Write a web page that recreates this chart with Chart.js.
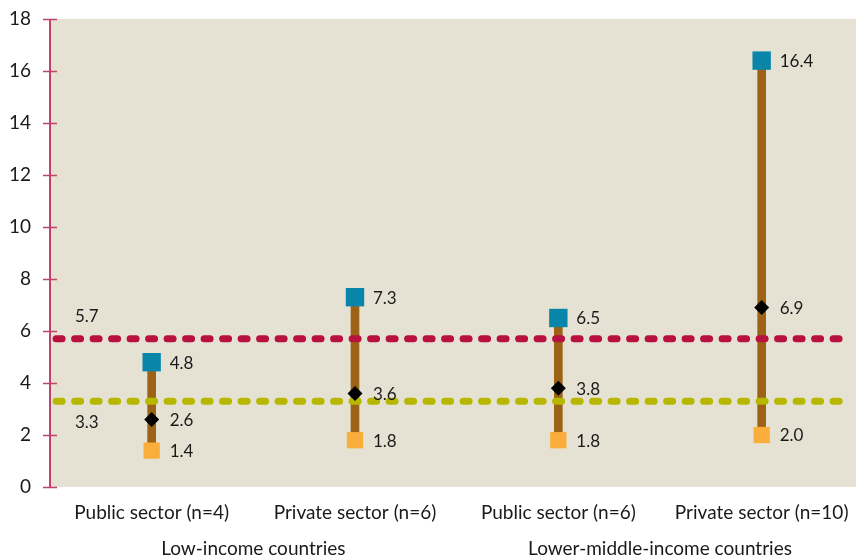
<!DOCTYPE html>
<html>
<head>
<meta charset="utf-8">
<script src="https://cdn.jsdelivr.net/npm/chart.js@4"></script>
<style>
  html, body { margin: 0; padding: 0; background: #fff; }
  #wrap { width: 856px; height: 557px; }
</style>
</head>
<body>
<div id="wrap"><canvas id="chart"></canvas></div>
<script>
// categories and values
const categories = ['Public sector (n=4)', 'Private sector (n=6)', 'Public sector (n=6)', 'Private sector (n=10)'];
const groups = ['Low-income countries', 'Lower-middle-income countries'];
const maxValues = [4.8, 7.3, 6.5, 16.4];
const medianValues = [2.6, 3.6, 3.8, 6.9];
const minValues = [1.4, 1.8, 1.8, 2.0];
const refHigh = 5.7;
const refLow = 3.3;
const yTicks = [0, 2, 4, 6, 8, 10, 12, 14, 16, 18];

const FONT = 'Lato';
const AXIS_RED = '#c2416a';
const X_MIN = -0.5, X_MAX = 3.40;
const REF_START = -0.47, REF_END = 3.43;

const pts = arr => arr.map((v, i) => ({ x: i, y: v }));

// plot background + axis + labels
const decor = {
    id: 'decor',
    beforeDatasetsDraw(chart) {
        const { ctx, chartArea: a } = chart;
        ctx.save();
        ctx.fillStyle = '#e6e2d3';
        ctx.fillRect(a.left, a.top, chart.width - a.left, a.bottom - a.top);
        ctx.restore();
    },
    afterDraw(chart) {
        const { ctx, chartArea: a, scales } = chart;
        const x = scales.x, y = scales.y;
        ctx.save();
        // y axis line and ticks
        ctx.strokeStyle = AXIS_RED;
        ctx.lineWidth = 2;
        ctx.beginPath();
        ctx.moveTo(a.left, y.getPixelForValue(18));
        ctx.lineTo(a.left, y.getPixelForValue(0));
        ctx.stroke();
        ctx.lineWidth = 1.5;
        yTicks.forEach(t => {
            const py = Math.round(y.getPixelForValue(t)) + 0.5;
            ctx.beginPath();
            ctx.moveTo(a.left - 7, py);
            ctx.lineTo(a.left + 7, py);
            ctx.stroke();
        });

        ctx.fillStyle = '#1a1a1a';
        ctx.font = '17px ' + FONT;
        ctx.textBaseline = 'middle';
        ctx.textAlign = 'left';
        // value labels beside markers
        [maxValues, medianValues, minValues].forEach(arr => {
            arr.forEach((v, i) => {
                ctx.fillText(v.toFixed(1), x.getPixelForValue(i) + 18, y.getPixelForValue(v) + 1);
            });
        });
        // reference line labels
        ctx.fillText(refHigh.toFixed(1), a.left + 25, y.getPixelForValue(refHigh) - 22);
        ctx.fillText(refLow.toFixed(1), a.left + 25, y.getPixelForValue(refLow) + 21);

        // group labels
        ctx.font = '19px ' + FONT;
        ctx.textAlign = 'center';
        ctx.fillText(groups[0], (x.getPixelForValue(0) + x.getPixelForValue(1)) / 2, 549);
        ctx.fillText(groups[1], (x.getPixelForValue(2) + x.getPixelForValue(3)) / 2, 549);
        ctx.restore();
    }
};

new Chart(document.getElementById('chart'), {
    data: {
        datasets: [
            {
                type: 'scatter', label: 'Median', data: pts(medianValues),
                pointStyle: 'rectRot', pointRadius: 7.5, backgroundColor: '#000', borderColor: '#000', borderWidth: 0
            },
            {
                type: 'scatter', label: 'Max', data: pts(maxValues),
                pointStyle: 'rect', pointRadius: 13, backgroundColor: '#0a85aa', borderColor: '#0a85aa', borderWidth: 0
            },
            {
                type: 'scatter', label: 'Min', data: pts(minValues),
                pointStyle: 'rect', pointRadius: 11.5, backgroundColor: '#f9ad3b', borderColor: '#f9ad3b', borderWidth: 0
            },
            {
                type: 'line', label: 'ref high', data: [{ x: REF_START, y: refHigh }, { x: REF_END, y: refHigh }],
                borderColor: '#b8103f', borderWidth: 7, borderDash: [6, 12.5], borderCapStyle: 'round',
                pointRadius: 0, fill: false, clip: false
            },
            {
                type: 'line', label: 'ref low', data: [{ x: REF_START, y: refLow }, { x: REF_END, y: refLow }],
                borderColor: '#b7b700', borderWidth: 7, borderDash: [6, 12.5], borderCapStyle: 'round',
                pointRadius: 0, fill: false, clip: false
            },
            {
                type: 'bar', label: 'Range', data: minValues.map((v, i) => ({ x: i, y: [v, maxValues[i]] })),
                backgroundColor: '#9c6317', barThickness: 8, borderWidth: 0
            }
        ]
    },
    options: {
        responsive: true,
        maintainAspectRatio: false,
        animation: false,
        layout: { padding: { top: 19, right: 0, bottom: 0, left: 0 } },
        plugins: { legend: { display: false }, tooltip: { enabled: false } },
        scales: {
            x: {
                type: 'linear', min: X_MIN, max: X_MAX, offset: false,
                afterBuildTicks: s => { s.ticks = categories.map((c, i) => ({ value: i })); },
                afterFit: s => { s.height = 70; s.paddingLeft = 0; s.paddingRight = 0; },
                ticks: {
                    autoSkip: false, maxRotation: 0, padding: 6,
                    color: '#1a1a1a', font: { family: FONT, size: 19 },
                    callback: v => categories[v]
                },
                grid: { display: false },
                border: { display: false }
            },
            y: {
                min: 0, max: 18,
                afterBuildTicks: s => { s.ticks = yTicks.map(v => ({ value: v })); },
                afterFit: s => { s.width = 50; s.paddingTop = 0; s.paddingBottom = 0; },
                ticks: { padding: 11, color: '#1a1a1a', font: { family: FONT, size: 19 } },
                grid: { display: false },
                border: { display: false }
            }
        }
    },
    plugins: [decor]
});
</script>
</body>
</html>
